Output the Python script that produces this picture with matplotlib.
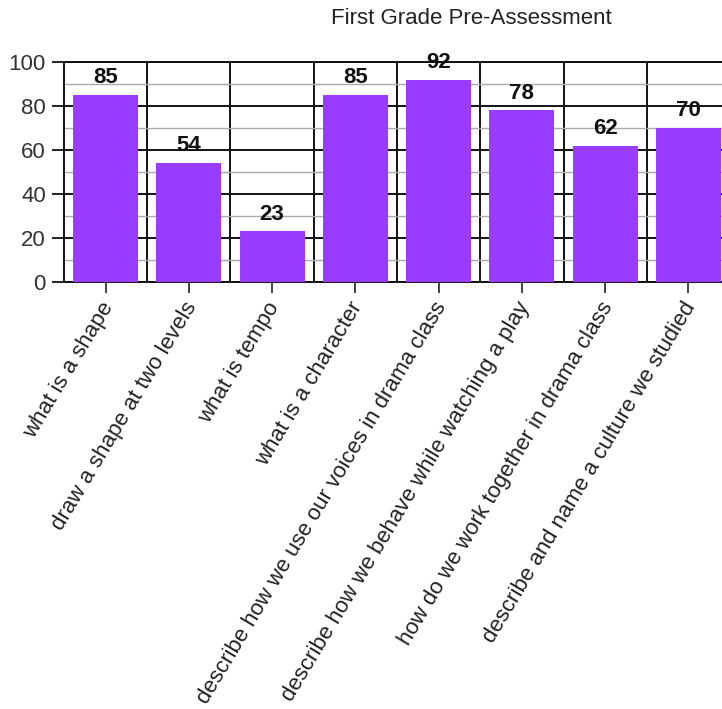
import matplotlib
matplotlib.use("Agg")
import matplotlib.pyplot as plt
import matplotlib.transforms as mtransforms
import numpy as np

plt.rcParams["font.family"] = ["Liberation Sans", "DejaVu Sans"]

TITLE = "First Grade Pre-Assessment"
CATEGORIES = [
    "what is a shape",
    "draw a shape at two levels",
    "what is tempo",
    "what is a character",
    "describe how we use our voices in drama class",
    "describe how we behave while watching a play",
    "how do we work together in drama class",
    "describe and name a culture we studied",
]
SCORES = [85, 54, 23, 85, 92, 78, 62, 70]
Y_TICKS = [0, 20, 40, 60, 80, 100]

BAR_COLOR = "#9a3cff"

fig = plt.figure(figsize=(7.22, 7.09), dpi=100)
# axes run slightly past the right edge of the figure, as in the source
ax = fig.add_axes([64 / 722, 427 / 709, 666 / 722, 220 / 709])

x = np.arange(len(CATEGORIES))
ax.bar(x, SCORES, width=0.78, color=BAR_COLOR, zorder=3)

for xi, val in zip(x, SCORES):
    ax.annotate(f"{val}", (xi, val), xytext=(0, 8.5), textcoords="offset points",
                ha="center", va="baseline", fontsize=16, fontweight="bold",
                color="#111111", zorder=5)

ax.set_xlim(-0.5, len(CATEGORIES) - 0.5)
ax.set_ylim(0, 100)

# horizontal grid: dark at majors, grey at minors
ax.set_yticks(Y_TICKS)
ax.set_yticks(np.arange(10, 100, 20), minor=True)
ax.grid(axis="y", which="major", color="#111111", linewidth=1.4, zorder=1)
ax.grid(axis="y", which="minor", color="#aaaaaa", linewidth=1.0, zorder=1)

# vertical lines between categories
ax.set_xticks(x)
ax.set_xticks(np.arange(0.5, len(CATEGORIES) - 0.5, 1), minor=True)
ax.grid(axis="x", which="minor", color="#111111", linewidth=1.4, zorder=1)
ax.tick_params(axis="x", which="minor", length=0)
ax.tick_params(axis="y", which="minor", length=0)

ax.set_xticklabels(CATEGORIES, rotation=59, ha="right", rotation_mode="anchor",
                   fontsize=16, color="#222222")
ax.tick_params(axis="x", which="major", length=8, width=1.2, color="#222222", pad=6)
ax.tick_params(axis="y", which="major", length=9, width=1.4, color="#222222",
               labelsize=16, labelcolor="#333333", pad=4)

# nudge the slanted labels a little left and up
shift = mtransforms.ScaledTranslation(-6 / 100, 3 / 100, fig.dpi_scale_trans)
for lbl in ax.get_xticklabels():
    lbl.set_transform(lbl.get_transform() + shift)

ax.spines["right"].set_visible(False)
for sp in ax.spines.values():
    sp.set_color("#111111")
    sp.set_linewidth(1.4)

fig.text(471 / 722, 1 - 18 / 709, TITLE, ha="center", va="center",
         fontsize=16, color="#222222")

fig.savefig("out.png", dpi=100)
